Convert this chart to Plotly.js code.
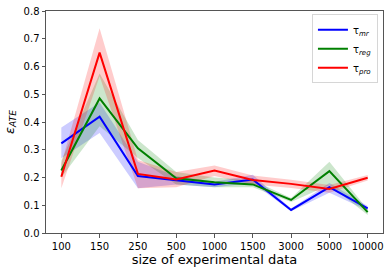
<!DOCTYPE html>
<html><head><meta charset="utf-8">
<script src="https://cdn.plot.ly/plotly-3.0.1.min.js"></script>
<style>html,body{margin:0;padding:0;background:#fff}#c{width:391px;height:274px}</style>
</head><body><div id="c"></div>
<script>
const sizes = ["100","150","250","500","1000","1500","3000","5000","10000"];
const mrMean = [0.323,0.419,0.205,0.190,0.175,0.193,0.083,0.165,0.089];
const mrLow  = [0.269,0.360,0.161,0.175,0.165,0.180,0.078,0.145,0.081];
const mrHigh = [0.380,0.470,0.257,0.205,0.185,0.210,0.088,0.180,0.097];
const regMean = [0.225,0.485,0.305,0.197,0.183,0.175,0.119,0.223,0.075];
const regLow  = [0.200,0.385,0.270,0.175,0.165,0.165,0.112,0.173,0.065];
const regHigh = [0.260,0.575,0.335,0.220,0.200,0.190,0.126,0.257,0.085];
const proMean = [0.203,0.650,0.213,0.193,0.225,0.191,0.177,0.159,0.199];
const proLow  = [0.161,0.565,0.161,0.165,0.205,0.175,0.162,0.145,0.189];
const proHigh = [0.250,0.738,0.263,0.220,0.243,0.207,0.192,0.173,0.209];

const series = [
  {name:"τ<sub><i>mr</i></sub>", mean:mrMean, lo:mrLow, hi:mrHigh, line:"#0000ff", fill:"rgba(0,0,255,0.2)"},
  {name:"τ<sub><i>reg</i></sub>", mean:regMean, lo:regLow, hi:regHigh, line:"#008000", fill:"rgba(0,128,0,0.2)"},
  {name:"τ<sub><i>pro</i></sub>", mean:proMean, lo:proLow, hi:proHigh, line:"#ff0000", fill:"rgba(255,0,0,0.2)"}
];
const traces = [];
series.forEach(s => {
  traces.push({x:sizes, y:s.lo, mode:"lines", line:{width:0, color:s.fill}, showlegend:false, hoverinfo:"skip"});
  traces.push({x:sizes, y:s.hi, mode:"lines", line:{width:0, color:s.fill}, fill:"tonexty", fillcolor:s.fill, showlegend:false, hoverinfo:"skip"});
});
series.forEach(s => {
  traces.push({x:sizes, y:s.mean, mode:"lines", name:s.name, line:{width:2, color:s.line}});
});
const font = {family:"DejaVu Sans", size:10, color:"#000"};
const layout = {
  width:391, height:274,
  margin:{l:46, r:8, t:11, b:41},
  paper_bgcolor:"#fff", plot_bgcolor:"#fff",
  font:font,
  showlegend:true,
  legend:{x:0.985, y:0.985, xanchor:"right", yanchor:"top", traceorder:"normal", itemwidth:30,
    bgcolor:"rgba(255,255,255,0.8)", bordercolor:"#d6d6d6", borderwidth:1, font:{family:"DejaVu Sans", size:10}, tracegroupgap:0},
  xaxis:{type:"category", range:[-0.4,8.4], showgrid:false, zeroline:false,
    showline:true, mirror:true, linecolor:"#555", linewidth:1,
    ticks:"outside", ticklen:3.5, tickcolor:"#555", tickfont:{family:"DejaVu Sans", size:10},
    title:{text:"size of experimental data", font:{family:"DejaVu Sans", size:13}, standoff:4}},
  yaxis:{range:[0,0.8], dtick:0.1, tickformat:".1f", showgrid:false, zeroline:false,
    showline:true, mirror:true, linecolor:"#555", linewidth:1,
    ticks:"outside", ticklen:3.5, tickcolor:"#555", tickfont:{family:"DejaVu Sans", size:10},
    title:{text:"<i>ε</i><sub><i>ATE</i></sub>", font:{family:"DejaVu Sans", size:13}, standoff:6}}
};
Plotly.newPlot("c", traces, layout, {staticPlot:true, displayModeBar:false});
</script></body></html>
